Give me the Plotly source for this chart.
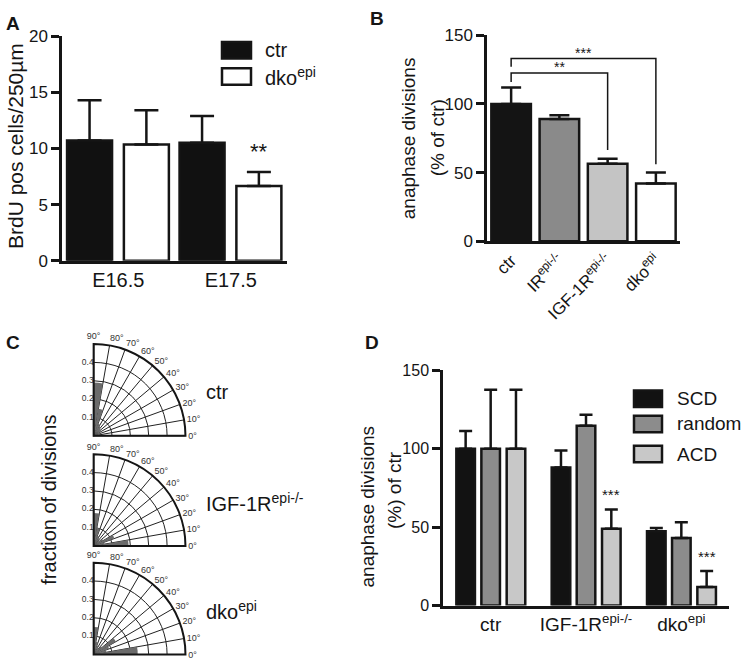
import plotly.graph_objects as go

W, H = 745, 671
FONT = "Liberation Sans, Arial, sans-serif"
INK = "#151515"

# ---------------- data ----------------
# Panel A
cats_A = ["E16.5", "E17.5"]
ctr_A = [10.7, 10.5]
ctr_A_err = [3.6, 2.4]
dko_A = [10.35, 6.65]
dko_A_err = [3.05, 1.25]
yticks_A = [0, 5, 10, 15, 20]

# Panel B
cats_B = ["ctr", "IR", "IGF-1R", "dko"]
labels_B = ["ctr", "IR<sup>epi-/-</sup>", "IGF-1R<sup>epi-/-</sup>", "dko<sup>epi</sup>"]
vals_B = [100, 89, 56.5, 42]
err_B = [12, 2.8, 3.5, 8]
colors_B = ["#141414", "#8a8a8a", "#c4c4c4", "#ffffff"]
yticks_B = [0, 50, 100, 150]
br_left = ["ctr", "ctr"]
br_right = ["dko", "IGF-1R"]
br_left_low = [127, 116]
br_top = [133, 122.5]
br_right_low = [56, 66.5]
br_label = ["***", "**"]

# Panel C (fraction of divisions per 10-degree bin)
angles_C = [5, 15, 25, 35, 45, 55, 65, 75, 85]
ctr_C = [0.03, 0.03, 0.04, 0.05, 0.05, 0.06, 0.07, 0.15, 0.29]
igf_C = [0.19, 0.06, 0.12, 0.06, 0.04, 0.05, 0.06, 0.10, 0.18]
dko_C = [0.24, 0.07, 0.09, 0.14, 0.06, 0.04, 0.05, 0.07, 0.15]
names_C = ["ctr", "IGF-1R<sup>epi-/-</sup>", "dko<sup>epi</sup>"]
rticks_C = [0.1, 0.2, 0.3, 0.4]

# Panel D
cats_D = ["ctr", "IGF-1R", "dko"]
labels_D = ["ctr", "IGF-1R<sup>epi-/-</sup>", "dko<sup>epi</sup>"]
scd_D = [100, 88, 47.3]
scd_err = [11.3, 10.9, 2.2]
rnd_D = [100, 114.6, 43.1]
rnd_err = [37.6, 7.0, 10.0]
acd_D = [100, 48.9, 11.8]
acd_err = [37.6, 12.4, 10.3]
yticks_D = [0, 50, 100, 150]
stars_D = ["", "***", "***"]


def px(x):
    return x / W


def py(y):
    return 1 - y / H


fig = go.Figure()

# ---------------- Panel A ----------------
wA = 0.40
offA = [-0.455, 0.05]
for vals, errs, col, off, nm in [(ctr_A, ctr_A_err, "#111111", offA[0], "ctr"),
                                 (dko_A, dko_A_err, "#ffffff", offA[1], "dko")]:
    fig.add_trace(go.Bar(
        x=cats_A, y=vals, width=wA, offset=off, xaxis="x", yaxis="y",
        marker=dict(color=col, line=dict(color=INK, width=2.5)),
        error_y=dict(type="data", array=errs, arrayminus=[0] * len(errs), symmetric=False,
                     color=INK, thickness=2.5, width=12),
        showlegend=False, name=nm))

# ---------------- Panel B ----------------
fig.add_trace(go.Bar(
    x=cats_B, y=vals_B, width=0.82, xaxis="x2", yaxis="y2",
    marker=dict(color=colors_B, line=dict(color=INK, width=2.5)),
    error_y=dict(type="data", array=err_B, arrayminus=[0] * len(err_B), symmetric=False,
                 color=INK, thickness=2.5, width=10),
    showlegend=False))
for l, r, ll, t, rl, lab in zip(br_left, br_right, br_left_low, br_top, br_right_low, br_label):
    fig.add_trace(go.Scatter(
        x=[l, l, r, r], y=[ll, t, t, rl], mode="lines", xaxis="x2", yaxis="y2",
        line=dict(color=INK, width=1.5), showlegend=False, hoverinfo="skip"))
    li, ri = cats_B.index(l), cats_B.index(r)
    fig.add_annotation(x=(li + ri) / 2, y=t, xref="x2", yref="y2", text=lab,
                       showarrow=False, yanchor="bottom", yshift=-4,
                       font=dict(size=14, color=INK, family=FONT))

# ---------------- Panel C ----------------
polar_px = [(92.3, 439.3), (92.3, 552.7), (92.3, 664.3)]
R = 94.5
for i, (vals, nm) in enumerate(zip([ctr_C, igf_C, dko_C], names_C)):
    sp = "polar" if i == 0 else f"polar{i+1}"
    fig.add_trace(go.Barpolar(
        r=vals, theta=angles_C, width=[10] * len(angles_C), subplot=sp,
        marker=dict(color="#6b6b6b", line=dict(width=0)), showlegend=False))
    fig.add_trace(go.Scatterpolar(
        r=rticks_C, theta=[90] * len(rticks_C), text=[f"{v:.1f}" for v in rticks_C],
        mode="text", textposition="middle left", subplot=sp, cliponaxis=False,
        textfont=dict(size=8.5, color="#333333", family=FONT),
        showlegend=False, hoverinfo="skip"))
    ox, oy = polar_px[i]
    fig.update_layout(**{sp: dict(
        domain=dict(x=[px(ox), px(ox + R)], y=[py(oy), py(oy - R)]),
        sector=[0, 90], bgcolor="rgba(0,0,0,0)",
        radialaxis=dict(range=[0, 0.5], tickvals=rticks_C, angle=90,
                        showticklabels=False, showline=True,
                        linecolor=INK, linewidth=1.2, gridcolor="#222222", gridwidth=1,
                        ticks="", layer="above traces"),
        angularaxis=dict(tickmode="array", tickvals=list(range(0, 100, 10)),
                         ticktext=[f"{a}°" for a in range(0, 100, 10)],
                         direction="counterclockwise", rotation=0, showline=True,
                         linecolor=INK, linewidth=2, gridcolor="#222222", gridwidth=1,
                         ticks="", layer="above traces",
                         tickfont=dict(size=9, color="#333333", family=FONT)))})
    fig.add_annotation(x=px(204), y=py(oy - 45), xref="paper", yref="paper", text=nm,
                       showarrow=False, xanchor="left", yanchor="middle",
                       font=dict(size=20, color=INK, family=FONT))

# ---------------- Panel D ----------------
wD = 0.195
offD = [-0.36, -0.0975, 0.168]
colD = ["#121212", "#8c8c8c", "#c8c8c8"]
namesD = ["SCD", "random", "ACD"]
for vals, errs, col, off, nm in zip([scd_D, rnd_D, acd_D], [scd_err, rnd_err, acd_err],
                                    colD, offD, namesD):
    fig.add_trace(go.Bar(
        x=cats_D, y=vals, width=wD, offset=off, xaxis="x3", yaxis="y3",
        marker=dict(color=col, line=dict(color=INK, width=2.5)),
        error_y=dict(type="data", array=errs, arrayminus=[0] * len(errs), symmetric=False,
                     color=INK, thickness=2.5, width=6.5),
        showlegend=False, name=nm))
for i, s in enumerate(stars_D):
    if s:
        fig.add_annotation(x=i + offD[2] + wD / 2, y=acd_D[i] + acd_err[i], xref="x3", yref="y3",
                           text=s, showarrow=False, yanchor="bottom", yshift=4,
                           font=dict(size=15, color=INK, family=FONT))

# ---------------- axes ----------------
ax_common = dict(showline=True, linecolor=INK, linewidth=2.5, showgrid=False, zeroline=False)
fig.update_layout(
    xaxis=dict(domain=[px(62), px(287)], anchor="y", range=[-0.5, 1.5], ticks="",
               tickfont=dict(size=20, color=INK, family=FONT), **ax_common),
    yaxis=dict(domain=[py(259), py(28)], anchor="x", range=[0, 20], tickvals=yticks_A,
               ticks="outside", ticklen=8, tickwidth=2.5, tickcolor=INK,
               tickfont=dict(size=17, color=INK, family=FONT), **ax_common),
    xaxis2=dict(domain=[px(487), px(680)], anchor="y2", range=[-0.5, 3.5], ticks="",
                tickmode="array", tickvals=cats_B, ticktext=labels_B, tickangle=-45,
                tickfont=dict(size=17, color=INK, family=FONT), **ax_common),
    yaxis2=dict(domain=[py(239), py(27)], anchor="x2", range=[0, 150], tickvals=yticks_B,
                ticks="outside", ticklen=8, tickwidth=2.5, tickcolor=INK,
                tickfont=dict(size=17, color=INK, family=FONT), **ax_common),
    xaxis3=dict(domain=[px(443), px(729)], anchor="y3", range=[-0.5, 2.5], ticks="",
                tickmode="array", tickvals=cats_D, ticktext=labels_D,
                tickfont=dict(size=19, color=INK, family=FONT), **ax_common),
    yaxis3=dict(domain=[py(614), py(371.7)], anchor="x3", range=[0, 150], tickvals=yticks_D,
                ticks="outside", ticklen=8, tickwidth=2.5, tickcolor=INK,
                tickfont=dict(size=16, color=INK, family=FONT), **ax_common),
    barmode="overlay",
    width=W, height=H, margin=dict(l=0, r=0, t=0, b=0),
    paper_bgcolor="white", plot_bgcolor="white",
    font=dict(family=FONT, color=INK),
)

# ---------------- legends (swatches) ----------------
shapes = []
def swatch(x0, y0, x1, y1, col):
    shapes.append(dict(type="rect", xref="paper", yref="paper",
                       x0=px(x0), x1=px(x1), y0=py(y1), y1=py(y0),
                       fillcolor=col, line=dict(color=INK, width=2.5)))

swatch(222, 34, 251, 51, "#111111")
swatch(222, 61, 251, 78, "#ffffff")
for txt, yy in [("ctr", 42), ("dko<sup>epi</sup>", 69)]:
    fig.add_annotation(x=px(263), y=py(yy), xref="paper", yref="paper", text=txt,
                       showarrow=False, xanchor="left", yanchor="middle",
                       font=dict(size=20, color=INK, family=FONT))
for col, nm, yy in zip(colD, namesD, [401, 427, 458]):
    swatch(634, yy - 8.5, 662, yy + 8.5, col)
    fig.add_annotation(x=px(675), y=py(yy), xref="paper", yref="paper", text=nm,
                       showarrow=False, xanchor="left", yanchor="middle",
                       font=dict(size=19, color=INK, family=FONT))
fig.update_layout(shapes=shapes)

# "**" in panel A
fig.add_annotation(x=1 + offA[1] + wA / 2, y=dko_A[1] + dko_A_err[1], xref="x", yref="y",
                   text="**", showarrow=False, yanchor="bottom", yshift=6,
                   font=dict(size=22, color=INK, family=FONT))

# ---------------- axis titles & panel letters ----------------
def vtext(x, y, txt, size):
    fig.add_annotation(x=px(x), y=py(y), xref="paper", yref="paper", text=txt,
                       showarrow=False, textangle=-90, xanchor="center", yanchor="middle",
                       font=dict(size=size, color=INK, family=FONT))

vtext(15, 141, "BrdU pos cells/250µm", 21)
vtext(408, 133, "anaphase divisions", 19)
vtext(437, 133, "(% of ctr)", 19)
vtext(368, 512, "anaphase divisions", 19)
vtext(395, 495, "(%) of ctr", 19)
vtext(49, 505, "fraction of divisions", 20)

for lab, x, y in [("A", 13, 15), ("B", 377, 10), ("C", 13, 343), ("D", 372, 343)]:
    fig.add_annotation(x=px(x), y=py(y), xref="paper", yref="paper", text=f"<b>{lab}</b>",
                       showarrow=False, xanchor="center", yanchor="middle",
                       font=dict(size=19, color=INK, family=FONT))

fig.write_html("out.html", config={"displayModeBar": False},
               post_script="document.body.style.margin='0';")
